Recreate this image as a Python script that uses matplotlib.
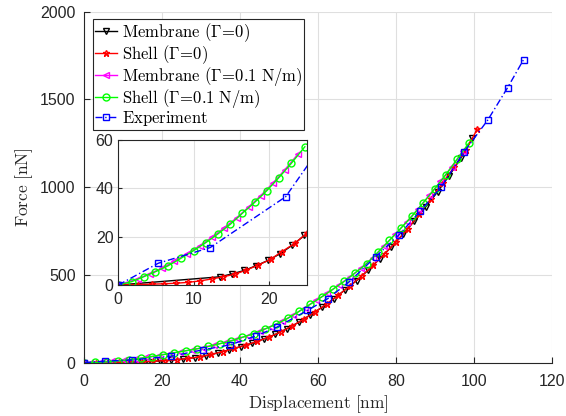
import matplotlib
matplotlib.use("Agg")
import matplotlib.pyplot as plt

plt.rcParams['mathtext.fontset'] = 'cm'
plt.rcParams['font.family'] = ['Liberation Sans', 'DejaVu Sans']

# ---------------- data (main axes) ----------------
x_shell0 = [0, 2.97, 5.93, 8.9, 11.86, 14.83, 17.79, 20.76, 23.72, 26.69, 29.65, 32.62,
            35.58, 38.55, 41.51, 44.48, 47.44, 50.41, 53.38, 56.34, 59.31, 62.27, 65.24,
            68.2, 71.17, 74.13, 77.1, 80.06, 83.03, 85.99, 88.96, 91.92, 94.89, 97.85, 100.82]
f_shell0 = [0, 0.2, 0.6, 1.3, 2.4, 4.8, 8, 12, 17, 24, 33, 47,
            63, 81, 100, 122, 146, 175, 210, 247, 290, 335, 385,
            438, 494, 555, 620, 690, 762, 850, 935, 1025, 1115, 1210, 1330]

x_mem0 = [0, 13.5, 16.5, 19.5, 22.4, 25.4, 28.4, 31.3, 34.3, 37.3, 40.2, 43.2, 46.2, 49.1,
          52.1, 55.1, 58.0, 61.0, 64.0, 66.9, 69.9, 72.9, 75.8, 78.8, 81.8, 84.7, 87.7,
          90.7, 93.6, 96.6, 99.6]
f_mem0 = [0, 3.5, 6.5, 10, 15, 21, 29, 40, 56, 73, 92, 112, 136, 162,
          194, 231, 272, 315, 363, 415, 468, 528, 592, 660, 732, 808, 890,
          975, 1065, 1165, 1280]

x_shell01 = [0, 2.9, 5.8, 8.7, 11.6, 14.5, 17.4, 20.3, 23.2, 26.1, 29.0, 31.9, 34.8, 37.7,
             40.6, 43.5, 46.4, 49.3, 52.2, 55.1, 58.0, 60.9, 63.8, 66.7, 69.6, 72.5, 75.4,
             78.3, 81.2, 84.1, 87.0, 89.9, 92.8, 95.7, 98.6]
f_shell01 = [0, 1.5, 5, 10, 17, 25, 35, 46, 57, 68, 79, 93, 108, 124,
             145, 165, 192, 220, 252, 292, 333, 374, 418, 463, 513, 565, 630,
             697, 765, 835, 912, 990, 1072, 1160, 1250]

x_mem01 = [0, 1.5, 4.4, 7.3, 10.2, 13.1, 16.0, 18.9, 21.8, 24.7, 27.6, 30.5, 33.4, 36.3,
           39.2, 42.1, 45.0, 47.9, 50.8, 53.7, 56.6, 59.5, 62.4, 65.3, 68.2, 71.1, 74.0,
           76.9, 79.8, 82.7, 85.6, 88.5, 91.4, 94.3, 97.2]
f_mem01 = [0, 0.7, 3.5, 7.5, 13.5, 21, 30.5, 41, 52, 63, 74, 86, 101, 117,
           135, 155, 179, 206, 237, 272, 313, 355, 397, 442, 490, 540, 598,
           664, 732, 802, 875, 953, 1033, 1118, 1207]

x_exp = [0, 5.3, 12.2, 22.2, 30.4, 37.5, 44.0, 49.5, 57.3, 62.5, 67.9, 74.8, 80.8,
         86.2, 91.6, 97.5, 103.5, 108.6, 112.7]
f_exp = [0, 9, 15.5, 36.5, 73, 102, 152, 203, 298, 365, 459, 604, 729,
         863, 1002, 1203, 1382, 1567, 1727]

# ---------------- data (inset, finer sampling) ----------------
xi_shell0 = [0, 2.68, 4.48, 6.04, 7.7, 9.26, 10.87, 12.4, 13.9, 15.5, 17.0, 18.6, 20.2,
             21.7, 23.4, 25.0]
fi_shell0 = [0, 0.2, 0.35, 0.5, 0.75, 1.1, 1.7, 2.5, 3.4, 4.5, 6.2, 8.3, 10.6,
             13.8, 17.2, 21.4]
xi_mem0 = [0, 13.5, 15.1, 16.7, 18.3, 19.9, 21.5, 23.1, 24.7]
fi_mem0 = [0, 3.4, 4.6, 6.0, 8.0, 10.2, 13.0, 16.5, 20.5]
xi_shell01 = [0, 1.8, 3.36, 4.93, 6.58, 8.28, 9.98, 11.6, 13.2, 14.86, 16.47, 18.1, 19.7,
              21.3, 22.95, 24.75]
fi_shell01 = [0, 1.4, 3.4, 5.5, 7.9, 11.0, 14.2, 17.5, 21.1, 25.1, 29.7, 34.2, 39.0,
              44.4, 50.3, 57.2]
xi_mem01 = [0, 2.6, 4.2, 5.8, 7.4, 9.1, 10.8, 12.4, 14.0, 15.7, 17.3, 18.9, 20.5, 22.1, 23.8]
fi_mem01 = [0, 2.6, 4.7, 7.0, 9.8, 13.0, 16.2, 19.7, 23.5, 27.8, 32.3, 37.0, 42.1, 47.7, 54.0]

labels = [r'$\mathrm{Membrane\ (\Gamma\!=\!0)}$',
          r'$\mathrm{Shell\ (\Gamma\!=\!0)}$',
          r'$\mathrm{Membrane\ (\Gamma\!=\!0.1\ N/m)}$',
          r'$\mathrm{Shell\ (\Gamma\!=\!0.1\ N/m)}$',
          r'$\mathrm{Experiment}$']

x_ticks = [0, 20, 40, 60, 80, 100, 120]
y_ticks = [0, 500, 1000, 1500, 2000]
xi_ticks = [0, 10, 20]
yi_ticks = [0, 20, 40, 60]

AX = '#262626'
GRID = '#dfdfdf'
styles = [dict(color='k', marker='v', ls='-'),
          dict(color='#ff0000', marker='*', ls='-'),
          dict(color='#ff00ff', marker='<', ls='-'),
          dict(color='#00ff00', marker='o', ls='-'),
          dict(color='#0000ff', marker='s', ls=(0, (5, 2, 1, 2)))]
common = dict(lw=1.0, ms=5, mfc='none', mew=1.0)

fig = plt.figure(figsize=(5.66, 4.16), dpi=100)
ax = fig.add_axes([0.1484, 0.1281, 0.8269, 0.8437])

main_sets = [(x_mem0, f_mem0), (x_shell0, f_shell0), (x_mem01, f_mem01),
             (x_shell01, f_shell01), (x_exp, f_exp)]
handles = []
for (xs, ys), st, lab in zip(main_sets, styles, labels):
    h, = ax.plot(xs, ys, label=lab, **st, **common)
    handles.append(h)

ax.set_xlim(0, 120)
ax.set_ylim(0, 2000)
ax.set_xticks(x_ticks)
ax.set_yticks(y_ticks)
ax.grid(True, color=GRID, lw=0.8)
ax.set_axisbelow(True)
for s in ['top', 'right']:
    ax.spines[s].set_visible(False)
for s in ['left', 'bottom']:
    ax.spines[s].set_color(AX)
    ax.spines[s].set_linewidth(0.8)
ax.tick_params(direction='in', length=4, width=0.8, colors=AX, labelsize=11.5)
ax.tick_params(axis='x', pad=8)
ax.tick_params(axis='y', pad=6)
ax.set_xlabel(r'$\mathrm{Displacement\ [nm]}$', fontsize=12.5, color=AX, labelpad=3)
ax.set_ylabel(r'$\mathrm{Force\ [nN]}$', fontsize=12.5, color=AX, labelpad=4)

leg = ax.legend(handles=handles, loc='upper left', bbox_to_anchor=(0.019, 0.978),
                borderaxespad=0, fontsize=12, handlelength=1.3, handletextpad=0.3,
                labelspacing=-0.06, borderpad=0.12, fancybox=False, framealpha=1,
                edgecolor=AX)
leg.get_frame().set_linewidth(0.8)

# ---------------- inset ----------------
axi = fig.add_axes([0.2090, 0.3149, 0.3329, 0.3486])
inset_sets = [(xi_mem0, fi_mem0), (xi_shell0, fi_shell0), (xi_mem01, fi_mem01),
              (xi_shell01, fi_shell01), (x_exp, f_exp)]
for (xs, ys), st in zip(inset_sets, styles):
    axi.plot(xs, ys, **st, **common)
axi.set_xlim(0, 25)
axi.set_ylim(0, 60)
axi.set_xticks(xi_ticks)
axi.set_yticks(yi_ticks)
axi.grid(True, color=GRID, lw=0.8)
axi.set_axisbelow(True)
for s in axi.spines.values():
    s.set_color(AX)
    s.set_linewidth(0.8)
axi.tick_params(direction='in', length=3, width=0.8, colors=AX, labelsize=11.5,
                top=False, right=False)
axi.tick_params(axis='x', pad=5)

fig.savefig('out.png', dpi=100)
